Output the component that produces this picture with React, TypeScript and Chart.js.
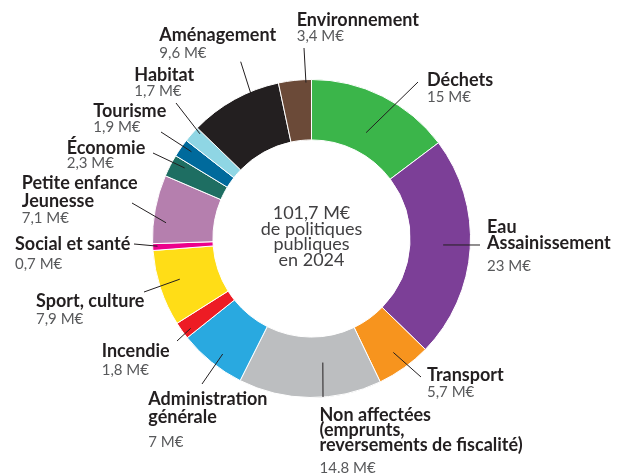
import React, { useEffect, useRef } from "react";
import { Chart, registerables } from "chart.js";

Chart.register(...registerables);

// ---- data ----
const categories = [
  "Déchets",
  "Eau Assainissement",
  "Transport",
  "Non affectées (emprunts, reversements de fiscalité)",
  "Administration générale",
  "Incendie",
  "Sport, culture",
  "Social et santé",
  "Petite enfance Jeunesse",
  "Économie",
  "Tourisme",
  "Habitat",
  "Aménagement",
  "Environnement",
];
const values = [15, 23, 5.7, 14.8, 7, 1.8, 7.9, 0.7, 7.1, 2.3, 1.9, 1.7, 9.6, 3.4];
const valueLabels = [
  "15 M€", "23 M€", "5,7 M€", "14.8 M€", "7 M€", "1,8 M€", "7,9 M€",
  "0,7 M€", "7,1 M€", "2,3 M€", "1,9 M€", "1,7 M€", "9,6 M€", "3,4 M€",
];
const titleLines = [
  ["Déchets"],
  ["Eau", "Assainissement"],
  ["Transport"],
  ["Non affectées", "(emprunts,", "reversements de fiscalité)"],
  ["Administration", "générale"],
  ["Incendie"],
  ["Sport, culture"],
  ["Social et santé"],
  ["Petite enfance", "Jeunesse"],
  ["Économie"],
  ["Tourisme"],
  ["Habitat"],
  ["Aménagement"],
  ["Environnement"],
];
const colors = [
  "#3BB54A", "#7C3F97", "#F7941E", "#BCBEC0", "#29A9E0", "#ED1C24", "#FFDD17",
  "#EC008C", "#B57FAE", "#1E6E62", "#006A9C", "#8FD6E4", "#231F20", "#6B4A38",
];
const centerLines = ["101,7 M€", "de politiques", "publiques", "en 2024"];

// ---- label layout (text anchor, leader line: outer end in px, inner end as fractions within the arc) ----
// [textX, firstBaseline, lineHeight, valueBaseline, lineEndX, lineEndY, angleFrac, radiusFrac]
const labelLayout: number[][] = [
  [427, 86, 16, 101.7, 418, 82, 0.515, 0.34],
  [487, 232.7, 16.3, 271, 480, 245, 0.49, 0.55],
  [427, 381, 16, 396.7, 421, 377, 0.5, 0.69],
  [319.5, 420.7, 15.3, 472.7, 323, 397, 0.39, 0.43],
  [148.3, 405, 18.3, 447.3, 202, 384, 0.44, 0.78],
  [101.7, 356.7, 16, 375, 177, 341, 0.31, 0.86],
  [36, 306.7, 16, 324.3, 144, 292, 0.54, 0.65],
  [15, 250, 16, 269.3, 134, 244, 0.6, 0.92],
  [21.7, 189.3, 17.4, 223.3, 132, 203, 0.32, 0.79],
  [66.7, 154, 16, 168.3, 153, 153, 0.72, 0.77],
  [93.3, 117.3, 16, 132.3, 161, 132, 0.67, 0.82],
  [134.3, 81, 16, 96, 176, 103, 0.85, 0.9],
  [159.3, 41, 16, 58.3, 240.7, 61.7, 0.68, 0.9],
  [296.7, 26, 16, 40.7, 304, 48, 0.83, 0.95],
];

const FONT = "Lato, 'Open Sans', sans-serif";

const labelPlugin = {
  id: "outerLabels",
  afterDatasetsDraw(chart: any) {
    const ctx = chart.ctx as CanvasRenderingContext2D;
    const meta = chart.getDatasetMeta(0);
    ctx.save();
    // leader lines
    ctx.strokeStyle = "#231F20";
    ctx.lineWidth = 1;
    meta.data.forEach((arc: any, i: number) => {
      const lay = labelLayout[i];
      const a = arc.startAngle + lay[6] * (arc.endAngle - arc.startAngle);
      const r = arc.innerRadius + lay[7] * (arc.outerRadius - arc.innerRadius);
      const px = arc.x + Math.cos(a) * r;
      const py = arc.y + Math.sin(a) * r;
      ctx.beginPath();
      ctx.moveTo(lay[4], lay[5]);
      ctx.lineTo(px, py);
      ctx.stroke();
    });
    // texts
    ctx.textAlign = "left";
    ctx.textBaseline = "alphabetic";
    meta.data.forEach((_arc: any, i: number) => {
      const lay = labelLayout[i];
      ctx.fillStyle = "#231F20";
      ctx.font = `bold 18px ${FONT}`;
      titleLines[i].forEach((t, j) => {
        ctx.fillText(t, lay[0], lay[1] + j * lay[2]);
      });
      ctx.fillStyle = "#58595B";
      ctx.font = `15px ${FONT}`;
      ctx.fillText(valueLabels[i], lay[0], lay[3]);
    });
    // center text
    const arc0 = meta.data[0];
    ctx.textAlign = "center";
    ctx.fillStyle = "#414042";
    ctx.font = `18px ${FONT}`;
    const lh = 15.7;
    const startY = arc0.y - 19.5;
    centerLines.forEach((t, j) => {
      ctx.fillText(t, arc0.x, startY + j * lh);
    });
    ctx.restore();
  },
};

export default function App() {
  const ref = useRef<HTMLCanvasElement | null>(null);
  useEffect(() => {
    if (!ref.current) return;
    const chart = new Chart(ref.current, {
      type: "doughnut",
      data: {
        labels: categories,
        datasets: [
          {
            data: values,
            backgroundColor: colors,
            borderColor: "#ffffff",
            borderWidth: 1,
          },
        ],
      },
      options: {
        responsive: false,
        animation: false,
        cutout: "62%",
        layout: { padding: { left: 152, right: 148, top: 79, bottom: 76 } },
        plugins: {
          legend: { display: false },
          tooltip: { enabled: false },
        },
      },
      plugins: [labelPlugin],
    });
    return () => chart.destroy();
  }, []);
  return (
    <div style={{ position: "fixed", left: 0, top: 0, width: 619, height: 474, background: "#fff" }}>
      <canvas ref={ref} width={619} height={474} style={{ width: 619, height: 474 }} />
    </div>
  );
}
